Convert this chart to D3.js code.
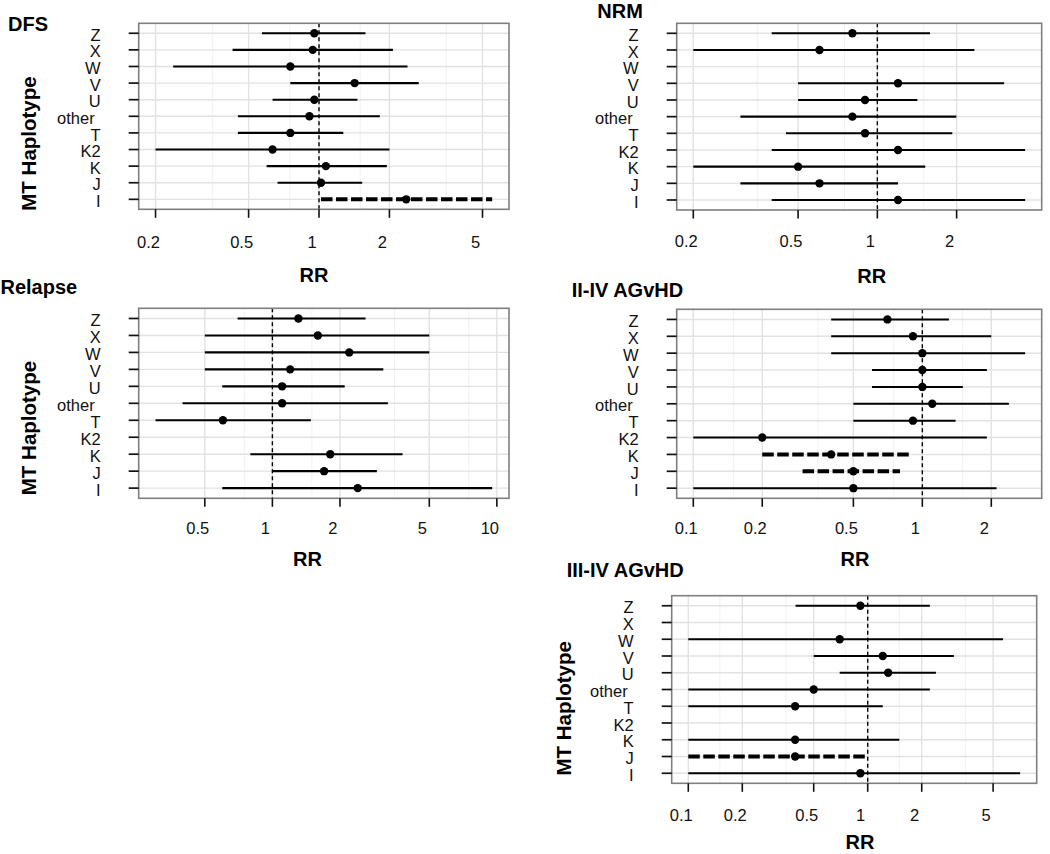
<!DOCTYPE html>
<html>
<head>
<meta charset="utf-8">
<script src="https://cdn.jsdelivr.net/npm/d3@7/dist/d3.min.js"></script>
<style>
  html, body { margin: 0; padding: 0; background: #fff; }
  svg { display: block; font-family: "Liberation Sans", Arial, Helvetica, sans-serif; }
</style>
</head>
<body>
<svg id="chart" width="1050" height="854"></svg>
<script>
// ---------------- DATA ----------------
const haplotypes = ["Z", "X", "W", "V", "U", "other", "T", "K2", "K", "J", "I"];

const dfsEst = [0.955, 0.94, 0.754, 1.42, 0.955, 0.91, 0.754, 0.633, 1.07, 1.02, 2.36];
const dfsLo  = [0.57, 0.427, 0.238, 0.754, 0.633, 0.45, 0.45, 0.2, 0.597, 0.665, 1.02];
const dfsHi  = [1.58, 2.07, 2.39, 2.67, 1.46, 1.82, 1.27, 2.0, 1.95, 1.53, 5.5];
const dfsSig = [0, 0, 0, 0, 0, 0, 0, 0, 0, 0, 1];
const dfsTicks = [0.2, 0.5, 1, 2, 5];

const nrmEst = [0.804, 0.603, null, 1.198, 0.898, 0.804, 0.898, 1.198, 0.5, 0.603, 1.198];
const nrmLo  = [0.397, 0.2, null, 0.5, 0.5, 0.302, 0.45, 0.397, 0.2, 0.302, 0.397];
const nrmHi  = [1.585, 2.335, null, 3.03, 1.418, 1.995, 1.926, 3.64, 1.52, 1.198, 3.64];
const nrmSig = [0, 0, 0, 0, 0, 0, 0, 0, 0, 0, 0];
const nrmTicks = [0.2, 0.5, 1, 2];

const relEst = [1.306, 1.594, 2.2, 1.2, 1.105, 1.105, 0.602, null, 1.81, 1.70, 2.40];
const relLo  = [0.70, 0.5, 0.5, 0.5, 0.598, 0.398, 0.3016, null, 0.798, 1.0, 0.598];
const relHi  = [2.60, 5.0, 5.0, 3.12, 2.10, 3.27, 1.484, null, 3.80, 2.92, 9.53];
const relSig = [0, 0, 0, 0, 0, 0, 0, 0, 0, 0, 0];
const relTicks = [0.5, 1, 2, 5, 10];

const g24Est = [0.704, 0.91, 1.0, 1.0, 1.0, 1.105, 0.91, 0.2, 0.4, 0.5, 0.5];
const g24Lo  = [0.4, 0.4, 0.4, 0.603, 0.603, 0.5, 0.5, 0.1, 0.2, 0.3, 0.1];
const g24Hi  = [1.306, 2.0, 2.81, 1.913, 1.503, 2.387, 1.397, 1.913, 0.889, 0.799, 2.108];
const g24Sig = [0, 0, 0, 0, 0, 0, 0, 0, 1, 1, 0];
const g24Ticks = [0.1, 0.2, 0.5, 1, 2];

const g34Est = [0.91, null, 0.698, 1.213, 1.30, 0.5, 0.394, null, 0.394, 0.394, 0.91];
const g34Lo  = [0.396, null, 0.1, 0.5, 0.698, 0.1, 0.1, null, 0.1, 0.1, 0.1];
const g34Hi  = [2.22, null, 5.68, 3.02, 2.40, 2.22, 1.213, null, 1.50, 1.0, 7.07];
const g34Sig = [0, 0, 0, 0, 0, 0, 0, 0, 0, 1, 0];
const g34Ticks = [0.1, 0.2, 0.5, 1, 2, 5];

const panelTitles = ["DFS", "NRM", "Relapse", "II-IV AGvHD", "III-IV AGvHD"];
const xTitle = "RR";
const yTitle = "MT Haplotype";

// ---------------- LAYOUT (positions only) ----------------
const layout = [
  { box: [138.7, 23.3, 509, 209.3],     title: [8, 30.7],     rr: [314, 274.5],   ylab: [28.3, 143.5], tickLabOff: 33 },
  { box: [676.7, 23.3, 1041.7, 210],    title: [597.3, 18],   rr: [871.7, 275.8], ylab: null,          tickLabOff: 31 },
  { box: [138.7, 308.3, 509, 498.3],    title: [0.5, 294],    rr: [307.5, 558.5], ylab: [28.3, 428],   tickLabOff: 29.7 },
  { box: [676.7, 309.3, 1041.7, 498.3], title: [571.7, 296.5],rr: [855, 558.5],   ylab: null,          tickLabOff: 30 },
  { box: [671.7, 595.7, 1036.7, 783.3], title: [566.7, 576.7],rr: [860, 842],     ylab: [563.3, 708.3],tickLabOff: 31.7 }
];

const panelData = [
  { est: dfsEst, lo: dfsLo, hi: dfsHi, sig: dfsSig, ticks: dfsTicks },
  { est: nrmEst, lo: nrmLo, hi: nrmHi, sig: nrmSig, ticks: nrmTicks },
  { est: relEst, lo: relLo, hi: relHi, sig: relSig, ticks: relTicks },
  { est: g24Est, lo: g24Lo, hi: g24Hi, sig: g24Sig, ticks: g24Ticks },
  { est: g34Est, lo: g34Lo, hi: g34Hi, sig: g34Sig, ticks: g34Ticks }
];

// ---------------- DRAW ----------------
const svg = d3.select("#chart");
svg.append("rect").attr("width", 1050).attr("height", 854).attr("fill", "#fff");

panelData.forEach((pd, pi) => {
  const L = layout[pi];
  const [x0, y0, x1, y1] = L.box;
  const g = svg.append("g");

  const rows = haplotypes.map((h, i) => ({
    h, est: pd.est[i], lo: pd.lo[i], hi: pd.hi[i], sig: pd.sig[i]
  }));
  const valid = rows.filter(r => r.est != null);
  const lmin = Math.log10(d3.min(valid, r => r.lo));
  const lmax = Math.log10(d3.max(valid, r => r.hi));
  const pad = 0.05 * (lmax - lmin);

  const x = d3.scaleLog()
    .domain([Math.pow(10, lmin - pad), Math.pow(10, lmax + pad)])
    .range([x0, x1]);
  const y = d3.scalePoint()
    .domain(haplotypes)
    .range([y0, y1])
    .padding(0.6);

  // minor grid (linear midpoints between major breaks)
  const minors = d3.pairs(pd.ticks).map(([a, b]) => (a + b) / 2);
  g.append("g").selectAll("line").data(minors).join("line")
    .attr("x1", d => x(d)).attr("x2", d => x(d))
    .attr("y1", y0).attr("y2", y1)
    .attr("stroke", "#f1f1f1").attr("stroke-width", 1);

  // major grid verticals
  g.append("g").selectAll("line").data(pd.ticks).join("line")
    .attr("x1", d => x(d)).attr("x2", d => x(d))
    .attr("y1", y0).attr("y2", y1)
    .attr("stroke", "#e2e2e2").attr("stroke-width", 1.4);

  // major grid horizontals
  g.append("g").selectAll("line").data(haplotypes).join("line")
    .attr("x1", x0).attr("x2", x1)
    .attr("y1", d => y(d)).attr("y2", d => y(d))
    .attr("stroke", "#e2e2e2").attr("stroke-width", 1.4);

  // reference line at RR = 1
  g.append("line")
    .attr("x1", x(1)).attr("x2", x(1))
    .attr("y1", y0).attr("y2", y1)
    .attr("stroke", "#000").attr("stroke-width", 1.4)
    .attr("stroke-dasharray", "4,3");

  // error bars
  g.append("g").selectAll("line").data(valid).join("line")
    .attr("x1", d => x(d.lo)).attr("x2", d => x(d.hi))
    .attr("y1", d => y(d.h)).attr("y2", d => y(d.h))
    .attr("stroke", "#000")
    .attr("stroke-width", d => d.sig ? 4 : 2.1)
    .attr("stroke-dasharray", d => d.sig ? "11.5,3.5" : null);

  // points
  g.append("g").selectAll("circle").data(valid).join("circle")
    .attr("cx", d => x(d.est))
    .attr("cy", d => y(d.h))
    .attr("r", 4.2)
    .attr("fill", "#000");

  // panel border
  g.append("rect")
    .attr("x", x0).attr("y", y0)
    .attr("width", x1 - x0).attr("height", y1 - y0)
    .attr("fill", "none").attr("stroke", "#7f7f7f").attr("stroke-width", 1.6);

  // y ticks
  g.append("g").selectAll("line").data(haplotypes).join("line")
    .attr("x1", x0 - 10).attr("x2", x0)
    .attr("y1", d => y(d)).attr("y2", d => y(d))
    .attr("stroke", "#111").attr("stroke-width", 1.7);

  // y tick labels
  g.append("g").selectAll("text").data(haplotypes).join("text")
    .attr("x", x0 - 38)
    .attr("dx", d => d === "other" ? -6 : 0)
    .attr("y", d => y(d) + 1.6)
    .attr("text-anchor", "end")
    .attr("dominant-baseline", "central")
    .attr("font-size", 16.5)
    .attr("fill", "#111")
    .text(d => d);

  // x ticks
  g.append("g").selectAll("line").data(pd.ticks).join("line")
    .attr("x1", d => x(d)).attr("x2", d => x(d))
    .attr("y1", y1).attr("y2", y1 + 8.5)
    .attr("stroke", "#111").attr("stroke-width", 1.6);

  // x tick labels
  g.append("g").selectAll("text").data(pd.ticks).join("text")
    .attr("x", d => x(d) - 7)
    .attr("y", y1 + L.tickLabOff)
    .attr("text-anchor", "middle")
    .attr("dominant-baseline", "central")
    .attr("font-size", 16.5)
    .attr("fill", "#111")
    .text(d => d3.format("~g")(d));

  // x axis title
  g.append("text")
    .attr("x", L.rr[0]).attr("y", L.rr[1])
    .attr("text-anchor", "middle")
    .attr("dominant-baseline", "central")
    .attr("font-size", 20).attr("font-weight", "bold")
    .attr("fill", "#000")
    .text(xTitle);

  // y axis title
  if (L.ylab) {
    g.append("text")
      .attr("transform", `translate(${L.ylab[0]},${L.ylab[1]}) rotate(-90)`)
      .attr("text-anchor", "middle")
      .attr("dominant-baseline", "central")
      .attr("font-size", 20.5).attr("font-weight", "bold")
      .attr("fill", "#000")
      .text(yTitle);
  }

  // panel title
  g.append("text")
    .attr("x", L.title[0]).attr("y", L.title[1])
    .attr("font-size", 20).attr("font-weight", "bold")
    .attr("fill", "#000")
    .text(panelTitles[pi]);
});
</script>
</body>
</html>
